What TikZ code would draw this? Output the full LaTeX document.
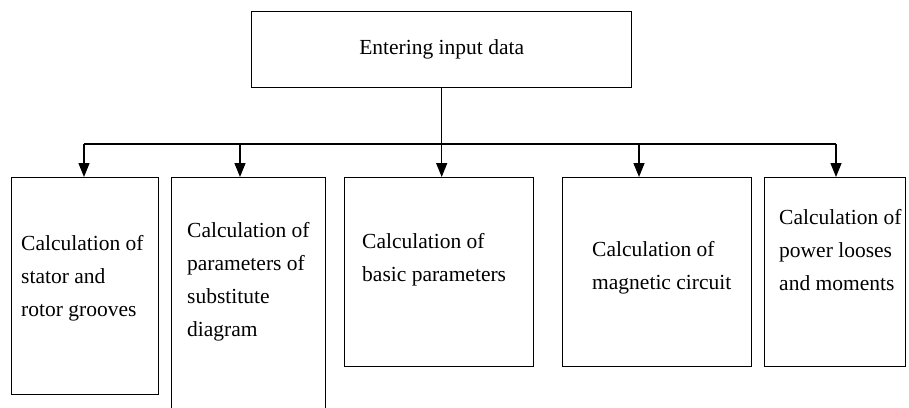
\documentclass[tikz,border=0pt]{standalone}
\usepackage{fontspec}
\setmainfont{Liberation Serif}
\usetikzlibrary{arrows.meta}

\tikzset{
  kuang/.style={draw, line width=1.4pt, inner sep=0pt, anchor=north west,
    font=\fontsize{21.5}{33}\selectfont},
  wenzi/.style={align=left, anchor=west, inner sep=0pt,
    font=\fontsize{21.5}{33}\selectfont},
  jian/.style={line width=1.4pt, -{Triangle[length=14pt,width=11pt]}},
}

\begin{document}
\begin{tikzpicture}[x=1pt, y=-1pt]
        % 画布
        \clip (0,0) rectangle (909,407);
        \fill[white] (0,0) rectangle (909,407);

        % 顶部框
        \node[kuang, minimum width=380pt, minimum height=76pt] (top) at (251,11) {Entering input data};

        % 下面五个框
        \node[kuang, minimum width=147pt, minimum height=217pt] (b1) at (11,177) {};
        \node[kuang, minimum width=154pt, minimum height=245pt] (b2) at (171,177) {};
        \node[kuang, minimum width=189pt, minimum height=189pt] (b3) at (344,177) {};
        \node[kuang, minimum width=189pt, minimum height=189pt] (b4) at (562,177) {};
        \node[kuang, minimum width=141pt, minimum height=189pt] (b5) at (764,177) {};

        % 框内文字
        \node[wenzi] (t1) at (21,278) {Calculation of\\stator and\\rotor grooves};
        \node[wenzi] (t2) at (187,282) {Calculation of\\parameters of\\substitute\\diagram};
        \node[wenzi] (t3) at (362,260) {Calculation of\\basic parameters};
        \node[wenzi] (t4) at (592,268) {Calculation of\\magnetic circuit};
        \node[wenzi] (t5) at (779,250) {Calculation of\\power looses\\and moments};

        % 连线及箭头
        \coordinate (j1) at (84,144);
        \coordinate (j2) at (240,144);
        \coordinate (j4) at (639,144);
        \coordinate (j5) at (836,144);
        \draw[line width=1.4pt] (j1) -- (j5);
        \draw[jian] (top.south) -- (top.south |- b3.north);
        \foreach \i in {1,2,4,5}
            \draw[jian] (j\i) -- (j\i |- b\i.north);
    \end{tikzpicture}
\end{document}
